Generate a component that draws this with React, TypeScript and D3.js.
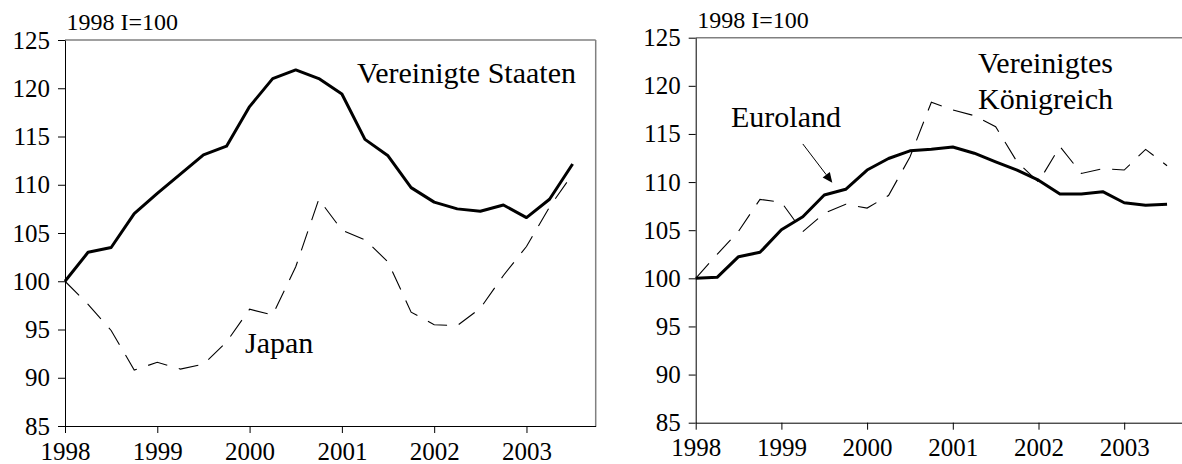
import React from "react";
import * as d3 from "d3";

// quarterly observations, 1998 Q1 .. 2003 Q3
const quarters = [
  1998, 1998.25, 1998.5, 1998.75, 1999, 1999.25, 1999.5, 1999.75, 2000, 2000.25, 2000.5, 2000.75,
  2001, 2001.25, 2001.5, 2001.75, 2002, 2002.25, 2002.5, 2002.75, 2003, 2003.25, 2003.5,
];

const usa = [
  100, 103.0, 103.5, 107.0, 109.1, 111.1, 113.1, 114.0, 118.1, 121.0, 121.9, 121.0,
  119.4, 114.7, 113.0, 109.7, 108.2, 107.5, 107.25, 107.9, 106.6, 108.5, 112.15,
];
const japan = [
  100, 97.6, 94.9, 90.8, 91.6, 90.9, 91.4, 93.7, 97.1, 96.5, 101.5, 108.5,
  105.3, 104.3, 102.0, 96.8, 95.5, 95.4, 97.2, 100.6, 103.6, 107.7, 111.1,
];
const euroland = [
  100, 100.1, 102.25, 102.7, 105.05, 106.4, 108.65, 109.25, 111.25, 112.45, 113.25, 113.4,
  113.65, 113.0, 112.1, 111.25, 110.2, 108.75, 108.75, 109.0, 107.85, 107.6, 107.7,
];
const uk = [
  100, 102.5, 104.9, 108.2, 107.9, 104.85, 106.75, 107.7, 107.3, 108.6, 112.6, 118.3,
  117.5, 116.9, 115.75, 112.1, 110.0, 113.7, 110.9, 111.4, 111.25, 113.4, 111.7,
];

const yTicks = [85, 90, 95, 100, 105, 110, 115, 120, 125];
const xTicks = [1998, 1999, 2000, 2001, 2002, 2003];

const FONT = "Liberation Serif, Times New Roman, Times, DejaVu Serif, serif";

export default function App() {
  const svgRef = React.useRef<SVGSVGElement>(null);

  React.useEffect(() => {
    const svg = d3.select(svgRef.current);
    svg.selectAll("*").remove();

    const panels = [
      {
        left: 65, right: 595.7, top: 40, bottom: 426, border: true,
        solid: usa, dashed: japan,
      },
      {
        left: 695.7, right: 695.7 + 5.75 * 85.7, top: 37.7, bottom: 422.7, border: false,
        solid: euroland, dashed: uk,
      },
    ];

    const scales = panels.map((p) => {
      const g = svg.append("g");
      const x = d3.scaleLinear().domain([1998, 2003.75]).range([p.left, p.right]);
      const y = d3.scaleLinear().domain([85, 125]).range([p.bottom, p.top]);

      // top border (and right one on the first panel)
      g.append("line")
        .attr("x1", p.left).attr("x2", p.right)
        .attr("y1", p.top).attr("y2", p.top)
        .attr("stroke", "#808080").attr("stroke-width", 1.5);
      if (p.border) {
        g.append("line")
          .attr("x1", p.right).attr("x2", p.right)
          .attr("y1", p.top).attr("y2", p.bottom)
          .attr("stroke", "#808080").attr("stroke-width", 1.5);
      }

      const yAxis = g.append("g")
        .attr("transform", `translate(${p.left},0)`)
        .call(d3.axisLeft(y).tickValues(yTicks).tickSize(7).tickSizeOuter(0).tickPadding(8));
      const xAxis = g.append("g")
        .attr("transform", `translate(0,${p.bottom})`)
        .call(d3.axisBottom(x).tickValues(xTicks).tickFormat(d3.format("d")).tickSize(7).tickSizeOuter(0).tickPadding(9));

      [yAxis, xAxis].forEach((a) => {
        a.attr("font-family", null).attr("font-size", null);
        a.style("font-family", FONT).style("font-size", "25px");
        a.selectAll("text").attr("fill", "#000");
        a.selectAll("line").attr("stroke", "#000");
        a.select(".domain").attr("stroke", "#000");
      });

      const line = d3.line<number>()
        .x((_, i) => x(quarters[i]))
        .y((d) => y(d));

      g.append("path")
        .datum(p.dashed)
        .attr("d", line)
        .attr("fill", "none")
        .attr("stroke", "#000")
        .attr("stroke-width", 1.1)
        .attr("stroke-dasharray", "20,12");

      g.append("path")
        .datum(p.solid)
        .attr("d", line)
        .attr("fill", "none")
        .attr("stroke", "#000")
        .attr("stroke-width", 3)
        .attr("stroke-linejoin", "round");

      g.append("text")
        .attr("x", p.left + 1.5).attr("y", p.top - 10)
        .style("font-family", FONT).style("font-size", "24px")
        .text("1998 I=100");

      return { x, y };
    });

    const label = (x: number, y: number, t: string, anchor = "start") =>
      svg.append("text")
        .attr("x", x).attr("y", y)
        .attr("text-anchor", anchor)
        .style("font-family", FONT).style("font-size", "30px")
        .text(t);

    label(576, 83, "Vereinigte Staaten", "end");
    label(245, 353, "Japan");
    label(731, 127, "Euroland");
    label(978, 72.5, "Vereinigtes");
    label(978, 108.5, "Königreich");

    // arrow pointing at the Euroland line
    const { x, y } = scales[1];
    const x1 = x(1999.25), y1 = y(113.96);
    const x2 = x(1999.594), y2 = y(109.94);
    const ang = Math.atan2(y2 - y1, x2 - x1);
    const head = 10, wing = 4.5;
    const bx = x2 - head * Math.cos(ang), by = y2 - head * Math.sin(ang);
    svg.append("line")
      .attr("x1", x1).attr("y1", y1).attr("x2", bx).attr("y2", by)
      .attr("stroke", "#000").attr("stroke-width", 1);
    svg.append("path")
      .attr("d", `M${x2},${y2}L${bx + wing * Math.sin(ang)},${by - wing * Math.cos(ang)}L${bx - wing * Math.sin(ang)},${by + wing * Math.cos(ang)}Z`)
      .attr("fill", "#000");
  }, []);

  return (
    <svg
      ref={svgRef}
      width={1182}
      height={464}
      style={{ position: "absolute", left: 0, top: 0, background: "#fff" }}
    />
  );
}
